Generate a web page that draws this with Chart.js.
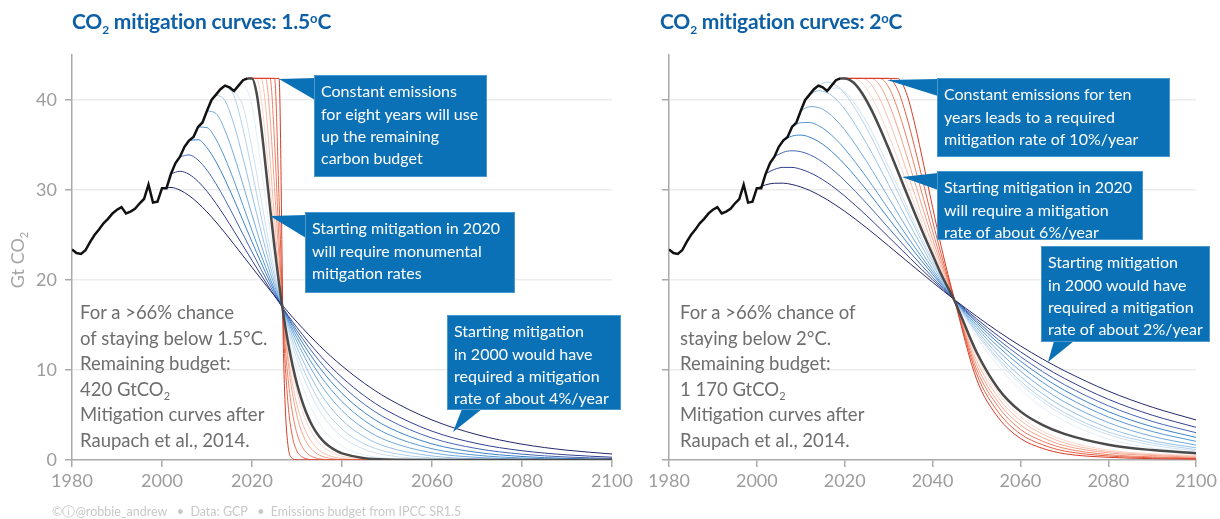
<!DOCTYPE html>
<html>
<head>
<meta charset="utf-8">
<script src="https://cdn.jsdelivr.net/npm/chart.js@4.4.1/dist/chart.umd.min.js"></script>
<style>
  body { margin: 0; width: 1220px; height: 519px; background: #fff; position: relative; overflow: hidden; font-family: Lato, 'Open Sans', sans-serif; }
  canvas { position: absolute; top: 0; }
  .title { position: absolute; top: 8px; font-size: 21px; font-weight: bold; color: #0d5fa6; white-space: nowrap; letter-spacing: -0.2px; }
  .title sub { font-size: 12px; vertical-align: -5px; }
  .title sup { font-size: 13px; vertical-align: 6px; }
  .note { position: absolute; top: 300px; font-size: 18.5px; line-height: 25.6px; color: #6e6e6e; white-space: nowrap; }
  .note sub { font-size: 11px; vertical-align: -4px; line-height: 0; }
  .ytitle { position: absolute; left: -12px; top: 248px; width: 60px; text-align: center; transform: rotate(-90deg); font-size: 18px; color: #a5a5a5; white-space: nowrap; }
  .ytitle sub { font-size: 11px; vertical-align: -4px; }
  .footer { position: absolute; left: 52px; top: 504px; font-size: 12.5px; color: #c8c8c8; white-space: nowrap; }
</style>
</head>
<body>
<canvas id="c20" width="600" height="519" style="left:620px"></canvas>
<canvas id="c15" width="640" height="519" style="left:0"></canvas>

<div class="title" style="left:72px">CO<sub>2</sub> mitigation curves: 1.5<sup>o</sup>C</div>
<div class="title" style="left:660px">CO<sub>2</sub> mitigation curves: 2<sup>o</sup>C</div>
<div class="ytitle">Gt CO<sub>2</sub></div>
<div class="note" style="left:80px">For a &gt;66% chance<br>of staying below 1.5°C.<br>Remaining budget:<br>420 GtCO<sub>2</sub><br>Mitigation curves after<br>Raupach et al., 2014.</div>
<div class="note" style="left:680px">For a &gt;66% chance of<br>staying below 2°C.<br>Remaining budget:<br>1 170 GtCO<sub>2</sub><br>Mitigation curves after<br>Raupach et al., 2014.</div>
<div class="footer">©ⓘ@robbie_andrew &nbsp;&nbsp;•&nbsp; Data: GCP &nbsp;&nbsp;•&nbsp; Emissions budget from IPCC SR1.5</div>

<script>
// historical emissions (Gt CO2)
const histYears = [1980,1981,1982,1983,1984,1985,1986,1987,1988,1989,1990,1991,1992,1993,1994,1995,1996,1997,1998,1999,
                   2000,2001,2002,2003,2004,2005,2006,2007,2008,2009,2010,2011,2012,2013,2014,2015,2016,2017,2018,2019];
const histCO2 = [23.4,23.0,22.9,23.3,24.2,25.0,25.6,26.3,26.8,27.4,27.8,28.1,27.4,27.6,27.9,28.5,29.0,30.6,28.6,28.7,
                 30.2,30.2,31.8,33.0,33.7,34.8,35.5,35.9,37.0,37.5,38.8,40.0,40.6,41.2,41.6,41.4,41.0,41.6,42.2,42.4];

// ---- 1.5C panel ----
// blue curves: values run from their start year to the end of gridA
const gridA = [2000,2002,2004,2006,2008,2010,2012,2014,2016,2018,2020,2022,2024,2026,2028,2030,2035,2040,2045,2050,2060,2070,2080,2090,2100];
const a2000 = [30.2,30.28,29.98,29.38,28.56,27.56,26.44,25.24,23.97,22.69,21.40,20.12,18.86,17.64,16.45,15.32,12.71,10.45,8.51,6.89,4.45,2.82,1.76,1.09,0.67];
const a2002 = [31.8,32.08,31.75,30.96,29.85,28.51,27.02,25.43,23.81,22.18,20.57,19.00,17.50,16.07,14.71,11.69,9.17,7.12,5.49,3.20,1.83,1.03,0.57,0.31];
const a2004 = [33.7,33.90,33.33,32.20,30.69,28.94,27.04,25.08,23.12,21.20,19.35,17.58,15.92,14.37,10.99,8.29,6.18,4.57,2.44,1.27,0.65,0.33,0.17];
const a2006 = [35.5,35.59,34.69,33.13,31.15,28.93,26.59,24.24,21.95,19.76,17.70,15.78,14.01,10.27,7.40,5.27,3.71,1.79,0.85,0.39,0.18,0.08];
const a2008 = [37.0,36.93,35.63,33.55,31.02,28.29,25.50,22.78,20.20,17.79,15.58,13.59,9.48,6.49,4.37,2.91,1.25,0.53,0.22,0.09,0.04];
const a2010 = [38.8,38.49,36.62,33.83,30.60,27.24,23.95,20.84,17.98,15.40,13.12,8.60,5.50,3.46,2.15,0.80,0.29,0.10,0.04,0.01];
const a2012 = [40.6,39.94,37.25,33.55,29.48,25.42,21.62,18.17,15.14,12.51,7.56,4.44,2.56,1.45,0.45,0.13,0.04,0.01,0];
const a2014 = [41.6,40.46,36.79,32.08,27.17,22.54,18.40,14.83,11.83,6.49,3.45,1.78,0.91,0.22,0.05,0.01,0,0];
const a2016 = [41.0,39.30,34.64,29.04,23.55,18.64,14.51,11.12,5.49,2.59,1.19,0.53,0.10,0.02,0,0,0];
const a2018 = [42.2,39.31,32.67,25.50,19.11,13.93,9.96,4.04,1.55,0.57,0.21,0.03,0,0,0,0];

// black (start 2020) and red (constant, then steep cut): values run from 2019
const gridAR = [2019,2020,2021,2022,2023,2024,2025,2026,2027,2028,2029,2030,2031,2032,2033,2034,2035,2036,2037,2038,2039,2040,2045,2050,2060,2070,2080,2090,2100];
const aBlack = [42.4,42.4,40.83,37.23,32.75,28.10,23.65,19.62,16.10,13.08,10.55,8.44,6.73,5.33,4.20,3.30,2.59,2.02,1.58,1.23,0.95,0.74,0.20,0.05,0.01,0,0,0,0];
const aRed2021 = [42.4,42.4,42.4,40.34,35.79,30.41,25.09,20.26,16.10,12.63,9.80,7.55,5.76,4.38,3.31,2.49,1.86,1.39,1.04,0.77,0.57,0.42,0.09,0.02];
const aRed2022 = [42.4,42.4,42.4,42.4,39.47,33.44,26.82,20.76,15.67,11.60,8.47,6.11,4.37,3.10,2.19,1.53,1.07,0.74,0.51,0.35,0.24,0.16,0.02,0];
const aRed2023 = [42.4,42.4,42.4,42.4,42.4,38.18,30.26,22.39,15.88,10.94,7.37,4.89,3.20,2.08,1.33,0.85,0.54,0.34,0.21,0.13,0.08,0.05,0,0];
const aRed2024 = [42.4,42.4,42.4,42.4,42.4,42.4,35.42,24.37,15.29,9.10,5.23,2.93,1.61,0.87,0.47,0.25,0.13,0.07,0.03,0.02,0.01,0,0,0];
const aRed2025 = [42.4,42.4,42.4,42.4,42.4,42.4,42.4,29.17,14.43,6.27,2.55,0.99,0.38,0.14,0.05,0.02,0,0,0,0,0,0,0,0];
const aRed2026 = [42.4,42.4,42.4,42.4,42.4,42.4,42.4,42.4,11.83,1.60,0.18,0.02,0,0,0,0,0,0,0,0,0,0,0,0];

// ---- 2C panel ----
const gridB = [2000,2002,2004,2006,2008,2010,2012,2014,2016,2018,2020,2025,2030,2035,2040,2045,2050,2055,2060,2065,2070,2080,2090,2100];
const b2000 = [30.2,30.57,30.75,30.76,30.61,30.34,29.96,29.48,28.93,28.31,27.64,25.79,23.79,21.76,19.75,17.81,15.98,14.26,12.68,11.23,9.92,7.66,5.87,4.45];
const b2002 = [31.8,32.29,32.51,32.51,32.31,31.94,31.44,30.83,30.12,29.33,27.15,24.78,22.37,20.02,17.80,15.69,13.77,12.03,10.46,9.07,6.75,4.98,3.63];
const b2004 = [33.7,34.19,34.36,34.26,33.93,33.41,32.74,31.94,31.05,28.51,25.77,23.00,20.30,17.80,15.46,13.37,11.49,9.84,8.38,6.03,4.29,3.03];
const b2006 = [35.5,35.99,36.10,35.88,35.40,34.71,33.84,32.85,29.98,26.83,23.67,20.63,17.80,15.26,12.99,10.99,9.25,7.75,5.38,3.70,2.51];
const b2008 = [37.0,37.48,37.50,37.16,36.52,35.63,34.57,31.39,27.86,24.30,20.91,17.80,15.01,12.57,10.46,8.65,7.13,4.78,3.17,2.07];
const b2010 = [38.8,39.26,39.18,38.66,37.80,36.69,33.16,29.13,25.08,21.25,17.80,14.73,12.11,9.88,8.01,6.46,4.16,2.63,1.65];
const b2012 = [40.6,41.03,40.82,40.09,38.99,35.15,30.60,25.98,21.66,17.80,14.46,11.64,9.29,7.37,5.82,3.57,2.16,1.35];
const b2014 = [41.6,41.99,41.63,40.72,36.85,31.89,26.79,22.03,17.80,14.21,11.23,8.79,6.84,5.28,3.11,1.90,1.15];
const b2016 = [41.0,41.34,40.90,37.53,32.58,27.27,22.24,17.80,14.04,10.95,8.47,6.49,4.94,2.82,1.65,1.00];
const b2018 = [42.2,42.48,39.65,34.33,28.37,22.73,17.80,13.72,10.43,7.84,5.85,4.33,2.33,1.35,0.85];

const gridBR = [2019,2020,2022,2024,2026,2028,2030,2032,2034,2036,2038,2040,2042,2045,2050,2055,2060,2065,2070,2080,2090,2100];
const bBlack = [42.4,42.4,41.94,40.72,38.98,36.89,34.60,32.19,29.76,27.36,25.03,22.81,20.60,17.70,12.00,7.90,5.40,3.90,2.90,1.70,1.10,0.74];
const bRed2022 = [42.4,42.4,42.4,41.86,40.45,38.46,36.11,33.56,30.92,28.29,25.73,23.28,20.96,17.79,11.60,7.40,4.80,3.20,2.20,1.10,0.70,0.50];
const bRed2024 = [42.4,42.4,42.4,42.4,41.75,40.10,37.82,35.15,32.30,29.41,26.57,23.85,21.28,17.79,11.10,6.90,4.40,2.90,1.90,0.95,0.60,0.40];
const bRed2026 = [42.4,42.4,42.4,42.4,42.4,41.62,39.67,37.01,33.97,30.79,27.62,24.56,21.69,17.81,10.60,6.40,3.90,2.50,1.60,0.80,0.50,0.30];
const bRed2028 = [42.4,42.4,42.4,42.4,42.4,42.4,41.44,39.09,35.97,32.48,28.91,25.44,22.18,17.80,10.10,5.90,3.40,2.10,1.30,0.60,0.35,0.22];
const bRed2030 = [42.4,42.4,42.4,42.4,42.4,42.4,42.4,41.19,38.31,34.60,30.58,26.58,22.81,17.80,9.60,5.30,2.90,1.70,1.00,0.45,0.25,0.15];
const bRed2032 = [42.4,42.4,42.4,42.4,42.4,42.4,42.4,42.4,40.83,37.23,32.75,28.10,23.65,17.80,9.00,4.70,2.40,1.30,0.70,0.30,0.15,0.10];

const blueShades = ['#23286b','#323f8e','#4566b5','#3b82c8','#5596d4','#74a9dd','#96bfe6','#b4d1ec','#cfe1f2','#e4eef8'];
const redShades = ['#fbd6cb','#f8bda9','#f4a088','#ee7f64','#e55d42','#d83b25'];

// values aligned to the end of the grid
function tail(grid, vals) {
  const off = grid.length - vals.length;
  return vals.map((v, i) => ({ x: grid[off + i], y: v }));
}
// values aligned to the start of the grid
function head(grid, vals) {
  return vals.map((v, i) => ({ x: grid[i], y: v }));
}

function line(data, color, width) {
  return { data, borderColor: color, borderWidth: width, pointRadius: 0, fill: false, cubicInterpolationMode: 'monotone' };
}

const callouts = {
  id: 'callouts',
  afterDraw(chart, args, opts) {
    const ctx = chart.ctx;
    ctx.save();
    for (const b of opts.boxes) {
      ctx.fillStyle = '#0b71b6';
      ctx.beginPath();
      ctx.moveTo(b.tip[0], b.tip[1]);
      ctx.lineTo(b.base[0], b.base[1]);
      ctx.lineTo(b.base[2], b.base[3]);
      ctx.closePath();
      ctx.fill();
      ctx.fillRect(b.x, b.y, b.w, b.h);
      ctx.strokeStyle = '#4d97cf';
      ctx.lineWidth = 1;
      ctx.strokeRect(b.x + 0.5, b.y + 0.5, b.w - 1, b.h - 1);
      ctx.fillStyle = '#fff';
      ctx.font = '16px Lato';
      ctx.textBaseline = 'middle';
      b.lines.forEach((t, i) => ctx.fillText(t, b.x + 7, b.y + 17 + i * 22.4));
    }
    ctx.restore();
  }
};

function makePanel(id, datasets, yWidth, padRight, showYLabels, boxes) {
  const axisGrey = '#a9a9a9';
  return new Chart(document.getElementById(id), {
    type: 'line',
    data: { datasets },
    plugins: [callouts],
    options: {
      responsive: false,
      animation: false,
      events: [],
      layout: { padding: { top: 55, right: padRight, bottom: 0, left: 0 } },
      plugins: { legend: { display: false }, tooltip: { enabled: false }, callouts: { boxes } },
      scales: {
        x: {
          type: 'linear', min: 1980, max: 2100,
          ticks: { stepSize: 20, color: '#9d9d9d', font: { family: 'Lato', size: 18 }, padding: 3, callback: v => String(v) },
          grid: { drawOnChartArea: false, tickLength: 7, color: axisGrey, lineWidth: 1.5 },
          border: { color: axisGrey, width: 1.5 },
          afterFit: s => { s.height = 59; }
        },
        y: {
          min: 0, max: 45,
          afterBuildTicks: s => { s.ticks = s.ticks.filter(t => t.value % 10 === 0); },
          ticks: { display: showYLabels, stepSize: 10, color: '#9d9d9d', font: { family: 'Lato', size: 18 }, padding: 8 },
          grid: { color: c => (c.tick && c.tick.value === 0 ? 'rgba(0,0,0,0)' : '#ececec'), lineWidth: 1.5, tickLength: 7, tickColor: axisGrey },
          border: { color: axisGrey, width: 1.5 },
          afterFit: s => { s.width = yWidth; }
        }
      }
    }
  });
}

function historyLine() {
  return Object.assign(line(head(histYears, histCO2), '#111', 2.5), { cubicInterpolationMode: 'default', tension: 0 });
}

const blueA = [a2000, a2002, a2004, a2006, a2008, a2010, a2012, a2014, a2016, a2018];
const redA = [aRed2021, aRed2022, aRed2023, aRed2024, aRed2025, aRed2026];
const dsA = [historyLine(), line(head(gridAR, aBlack), '#4a4a4a', 2.5)]
  .concat(redA.slice().reverse().map((v, i) => line(head(gridAR, v), redShades[redShades.length - 1 - i], 1)))
  .concat(blueA.map((v, i) => line(tail(gridA, v), blueShades[i], 1)));

const blueB = [b2000, b2002, b2004, b2006, b2008, b2010, b2012, b2014, b2016, b2018];
const redB = [bRed2022, bRed2024, bRed2026, bRed2028, bRed2030, bRed2032];
const dsB = [historyLine(), line(head(gridBR, bBlack), '#4a4a4a', 2.5)]
  .concat(redB.slice().reverse().map((v, i) => line(head(gridBR, v), redShades[redShades.length - 1 - i], 1)))
  .concat(blueB.map((v, i) => line(tail(gridB, v), blueShades[i], 1)));

makePanel('c15', dsA, 72, 28, true, [
  { x: 314, y: 75, w: 173, h: 102, tip: [279, 79], base: [315, 78, 315, 100],
    lines: ['Constant emissions', 'for eight years will use', 'up the remaining', 'carbon budget'] },
  { x: 305, y: 212, w: 210, h: 81, tip: [270, 216], base: [306, 215, 306, 238],
    lines: ['Starting mitigation in 2020', 'will require monumental', 'mitigation rates'] },
  { x: 447, y: 315, w: 174, h: 95, tip: [453, 432], base: [462, 409, 482, 409],
    lines: ['Starting mitigation', 'in 2000 would have', 'required a mitigation', 'rate of about 4%/year'] }
]);

makePanel('c20', dsB, 49, 20, false, [
  { x: 317, y: 78, w: 233, h: 79, tip: [267, 80], base: [318, 79, 318, 96],
    lines: ['Constant emissions for ten', 'years leads to a required', 'mitigation rate of 10%/year'] },
  { x: 317, y: 171, w: 206, h: 69, tip: [282, 177], base: [318, 173, 318, 190],
    lines: ['Starting mitigation in 2020', 'will require a mitigation', 'rate of about 6%/year'] },
  { x: 421, y: 246, w: 169, h: 96, tip: [428, 362], base: [434, 341, 454, 341],
    lines: ['Starting mitigation', 'in 2000 would have', 'required a mitigation', 'rate of about 2%/year'] }
]);
</script>
</body>
</html>
